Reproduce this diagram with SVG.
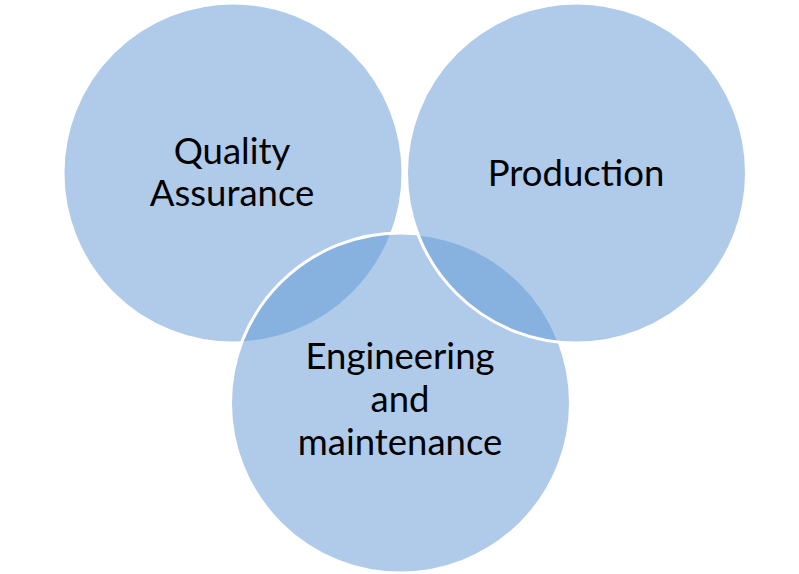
<svg xmlns="http://www.w3.org/2000/svg" width="799" height="574" viewBox="0 0 799 574">
<style>
.c{fill:rgb(95,151,211);fill-opacity:0.5;stroke:#fff;stroke-width:3}
.t{font-family:Lato,"Liberation Sans",sans-serif;font-size:36.5px;fill:#000;text-anchor:middle}
</style>
<rect width="799" height="574" fill="#fff"/>
<g id="qa">
<circle class="c" cx="233" cy="173" r="170"/>
</g>
<g id="eng">
<circle class="c" cx="400.5" cy="403" r="170"/>
</g>
<g id="prod">
<circle class="c" cx="576.5" cy="173" r="170"/>
</g>
<g id="labels">
<text class="t" x="232" y="164">Quality</text>
<text class="t" x="232" y="206">Assurance</text>
<text class="t" x="576" y="186">Production</text>
<text class="t" x="400" y="369">Engineering</text>
<text class="t" x="400" y="412">and</text>
<text class="t" x="400" y="455">maintenance</text>
</g>
</svg>
